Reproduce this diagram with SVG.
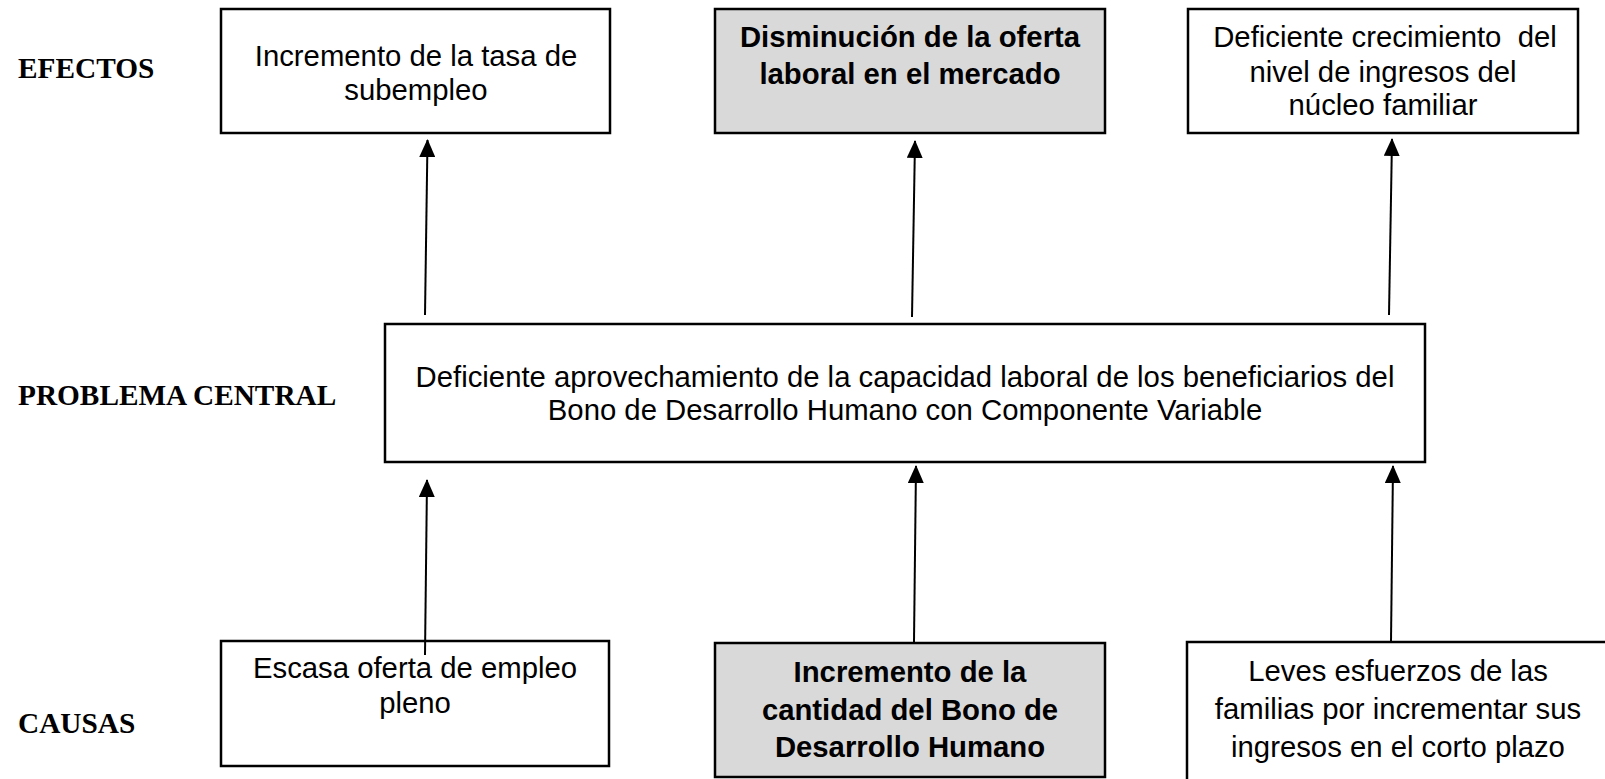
<svg xmlns="http://www.w3.org/2000/svg" width="1605" height="779" viewBox="0 0 1605 779">
  <style>
    .box { fill: #ffffff; stroke: #000000; stroke-width: 2.5; }
    .gray { fill: #d9d9d9; stroke: #000000; stroke-width: 2.5; }
    .t { font-family: "Liberation Sans", Arial, sans-serif; font-size: 29.3px; fill: #000000; text-anchor: middle; white-space: pre; }
    .b { font-weight: bold; }
    .lbl { font-family: "Liberation Serif", "Times New Roman", serif; font-size: 29.3px; font-weight: bold; fill: #000000; }
    .conn { stroke: #000000; stroke-width: 2; fill: none; marker-end: url(#arrow); }
  </style>
  <defs>
    <marker id="arrow" viewBox="0 0 18 16" refX="17" refY="8" markerWidth="18" markerHeight="16" markerUnits="userSpaceOnUse" orient="auto">
      <path d="M0,0 L18,8 L0,16 z" fill="#000000"/>
    </marker>
  </defs>
  <rect width="1605" height="779" fill="#ffffff"/>

  <g id="labels">
    <text class="lbl" x="18" y="78">EFECTOS</text>
    <text class="lbl" x="18" y="405">PROBLEMA CENTRAL</text>
    <text class="lbl" x="18" y="733">CAUSAS</text>
  </g>

  <g id="efecto1">
    <rect class="box" x="221" y="9" width="389" height="124"/>
    <text class="t" x="416" y="66">Incremento de la tasa de</text>
    <text class="t" x="416" y="100">subempleo</text>
  </g>
  <g id="efecto2">
    <rect class="gray" x="715" y="9" width="390" height="124"/>
    <text class="t b" x="910" y="47">Disminución de la oferta</text>
    <text class="t b" x="910" y="84">laboral en el mercado</text>
  </g>
  <g id="efecto3">
    <rect class="box" x="1188" y="9" width="390" height="124"/>
    <text class="t" x="1385" y="47">Deficiente crecimiento  del</text>
    <text class="t" x="1383" y="82">nivel de ingresos del</text>
    <text class="t" x="1383" y="115">núcleo familiar</text>
  </g>

  <g id="problema">
    <rect class="box" x="385" y="324" width="1040" height="138"/>
    <text class="t" x="905" y="387">Deficiente aprovechamiento de la capacidad laboral de los beneficiarios del</text>
    <text class="t" x="905" y="420">Bono de Desarrollo Humano con Componente Variable</text>
  </g>

  <g id="causa1">
    <rect class="box" x="221" y="641" width="388" height="125"/>
    <text class="t" x="415" y="678">Escasa oferta de empleo</text>
    <text class="t" x="415" y="713">pleno</text>
  </g>
  <g id="causa2">
    <rect class="gray" x="715" y="643" width="390" height="134"/>
    <text class="t b" x="910" y="682">Incremento de la</text>
    <text class="t b" x="910" y="720">cantidad del Bono de</text>
    <text class="t b" x="910" y="757">Desarrollo Humano</text>
  </g>
  <g id="causa3">
    <rect class="box" x="1187" y="642" width="440" height="160"/>
    <text class="t" x="1398" y="681">Leves esfuerzos de las</text>
    <text class="t" x="1398" y="719">familias por incrementar sus</text>
    <text class="t" x="1398" y="757">ingresos en el corto plazo</text>
  </g>

  <g id="connectors">
    <line class="conn" x1="425" y1="315" x2="427.5" y2="140"/>
    <line class="conn" x1="912" y1="317" x2="915" y2="141"/>
    <line class="conn" x1="1389" y1="315" x2="1392" y2="139"/>
    <line class="conn" x1="425" y1="655" x2="427" y2="480"/>
    <line class="conn" x1="914" y1="642" x2="916" y2="466"/>
    <line class="conn" x1="1391" y1="642" x2="1393" y2="466"/>
  </g>
</svg>
